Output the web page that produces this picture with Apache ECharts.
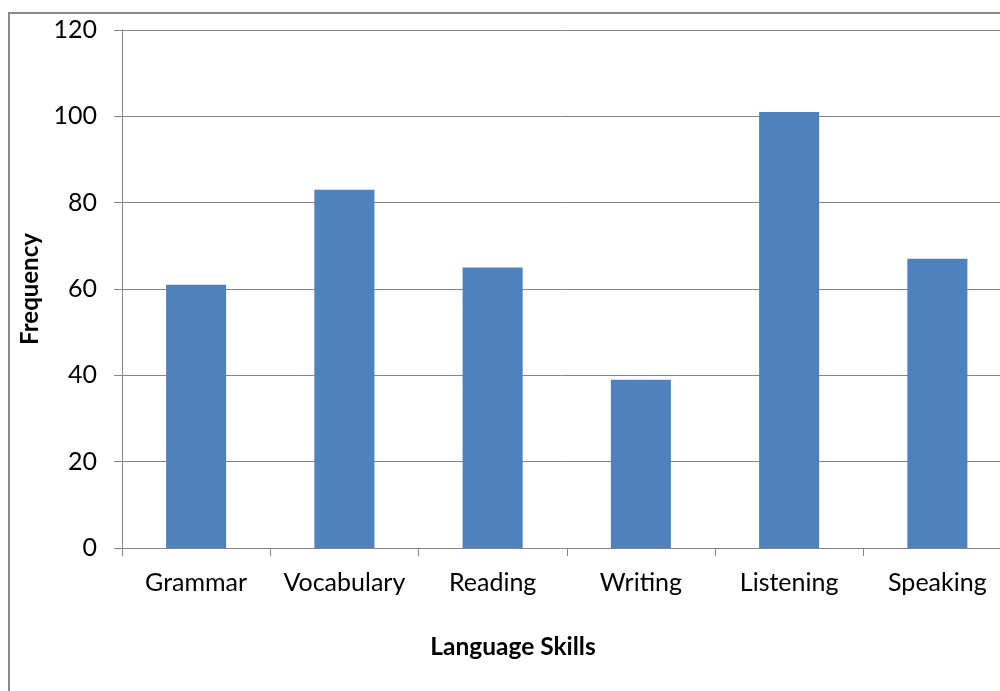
<!DOCTYPE html>
<html>
<head>
<meta charset="utf-8">
<script src="https://cdn.jsdelivr.net/npm/echarts@6/dist/echarts.min.js"></script>
<style>
html,body{margin:0;padding:0;background:#fff;}
#chart{width:1000px;height:691px;}
</style>
</head>
<body>
<div id="chart"></div>
<script>
const categories = ['Grammar', 'Vocabulary', 'Reading', 'Writing', 'Listening', 'Speaking'];
const frequency = [61, 83, 65, 39, 101, 67];
const yTicks = [0, 20, 40, 60, 80, 100, 120];
const xTitle = 'Language Skills';
const yTitle = 'Frequency';

const FONT = 'Lato';
const chart = echarts.init(document.getElementById('chart'), null, {renderer: 'canvas'});
chart.setOption({
  animation: false,
  backgroundColor: '#ffffff',
  textStyle: {fontFamily: FONT},
  grid: {left: 122, top: 30, width: 889.5, height: 518, containLabel: false, outerBoundsMode: 'none'},
  graphic: [
    {type: 'rect', x: 9, y: 13, shape: {x: 0, y: 0, width: 1200, height: 900},
     style: {fill: 'none', stroke: '#8a8a8a', lineWidth: 2}, silent: true, z: 0},
    {type: 'text', x: 513, y: 647,
     style: {text: xTitle, font: 'bold 24.5px ' + FONT, fill: '#000', align: 'center', verticalAlign: 'middle'}}
  ],
  xAxis: {
    type: 'category',
    data: categories,
    axisLine: {show: true, lineStyle: {color: '#868686', width: 1}},
    axisTick: {show: true, length: 8, alignWithLabel: false, lineStyle: {color: '#868686'}},
    axisLabel: {color: '#000', fontSize: 25, fontFamily: FONT, margin: 22, interval: 0},
    splitLine: {show: false}
  },
  yAxis: {
    type: 'value',
    min: yTicks[0], max: yTicks[yTicks.length - 1], interval: 20,
    name: yTitle,
    nameLocation: 'middle',
    nameGap: 76,
    nameRotate: 90,
    nameTextStyle: {fontWeight: 'bold', fontSize: 24, color: '#000', fontFamily: FONT},
    axisLine: {show: true, lineStyle: {color: '#868686', width: 1}},
    axisTick: {show: true, length: 8, lineStyle: {color: '#868686'}},
    axisLabel: {color: '#000', fontSize: 25, fontFamily: FONT, margin: 25},
    splitLine: {show: true, lineStyle: {color: '#868686', width: 1}}
  },
  series: [{
    type: 'bar',
    data: frequency,
    barWidth: '40.5%',
    itemStyle: {color: '#4F81BD'}
  }]
});
</script>
</body>
</html>
